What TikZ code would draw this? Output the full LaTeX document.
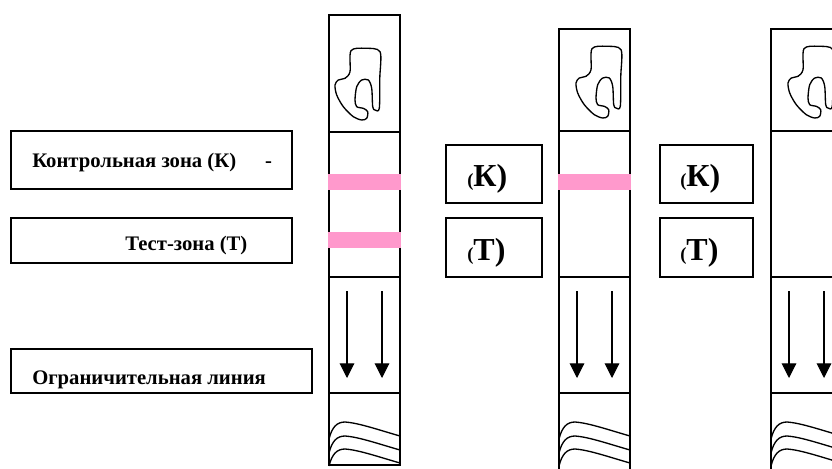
\documentclass[tikz,border=0pt]{standalone}
\usepackage{fontspec}
\setmainfont{Liberation Serif}
\usetikzlibrary{arrows.meta}
\definecolor{bandpink}{RGB}{255,153,204}
\newcommand\smallparen{{\fontsize{14}{16}\selectfont(}}

\begin{document}
\begin{tikzpicture}[x=0.75pt,y=-0.75pt,
  box/.style={draw,line width=1.1pt},
  strip/.style={draw,line width=1pt},
  band/.style={fill=bandpink},
  legend/.style={inner sep=0pt,anchor=base west,font=\bfseries\fontsize{15.5}{18}\selectfont},
  zone/.style={inner sep=0pt,anchor=base west,font=\bfseries\fontsize{24}{28}\selectfont},
  flow/.style={line width=0.8pt,-{Triangle[width=11pt,length=11pt]}},
  wave/.style={line width=1pt},
  hand/.pic={\draw[line width=1pt] plot[smooth cycle,tension=0.5] coordinates {
    (16,2.7) (30,0.3) (45,3.7) (44.8,30) (44.3,60.3) (40,62) (37.7,58.7) (36.7,40.3)
    (33.3,32) (26.7,32) (21.7,38.7) (20,52) (21.7,58.7) (28.3,60.3) (32.7,63.7)
    (31.7,70.3) (26.7,72) (18.3,68.7) (8.3,58.7) (1.7,47) (0,37) (3.3,32)
    (10,30.3) (15,23.7)};}]
\clip (0,0) rectangle (832,468);
% legend boxes
\draw[box] (11,131) rectangle (292,189);
\draw[box] (11,218) rectangle (292,263);
\draw[box] (11,349) rectangle (312,393);
\node[legend] (ctrl) at (32,167) {Контрольная зона (К)\hspace{1.4em}-};
\node[legend] (test) at (125,250) {Тест-зона (Т)};
\node[legend] (limit) at (32,384) {Ограничительная линия};
% zone boxes
\draw[box] (446,145) rectangle (542,203);
\draw[box] (446,218) rectangle (542,277);
\draw[box] (660,145) rectangle (753,203);
\draw[box] (660,218) rectangle (753,277);
\node[zone] (k1) at (467,186) {\smallparen К)};
\node[zone] (t1) at (467,260) {\smallparen Т)};
\node[zone] (k2) at (680,186) {\smallparen К)};
\node[zone] (t2) at (680,260) {\smallparen Т)};
% strips
\draw[strip] (329,15) rectangle (400,465);
\draw[strip] (329,132) -- (400,132) (329,277) -- (400,277) (329,393) -- (400,393);
\draw[strip] (559,470) -- (559,29) -- (630,29) -- (630,470);
\draw[strip] (559,131) -- (630,131) (559,277) -- (630,277) (559,393) -- (630,393);
\draw[strip] (771,470) -- (771,29) -- (842,29) -- (842,470);
\draw[strip] (771,131) -- (842,131) (771,277) -- (842,277) (771,393) -- (842,393);
\fill[band] (328,174) rectangle (401,190);
\fill[band] (328,232) rectangle (401,248);
\fill[band] (558,174) rectangle (631,190);
\pic at (335,48) {hand};
\pic at (576,46) {hand};
\pic at (788,46) {hand};
\draw[flow] (347,291) -- (347,378);
\draw[flow] (382,291) -- (382,378);
\draw[flow] (577,291) -- (577,378);
\draw[flow] (612,291) -- (612,378);
\draw[flow] (789,291) -- (789,378);
\draw[flow] (824,291) -- (824,378);
\foreach \x in {329,559,771}
  \foreach \y in {439,453,466}
    \draw[wave] (\x,\y) .. controls (\x+3,\y-12) and (\x+8,\y-17) .. (\x+16,\y-17)
      .. controls (\x+30,\y-16) and (\x+50,\y-9) .. (\x+71,\y-3);
\end{tikzpicture}
\end{document}
